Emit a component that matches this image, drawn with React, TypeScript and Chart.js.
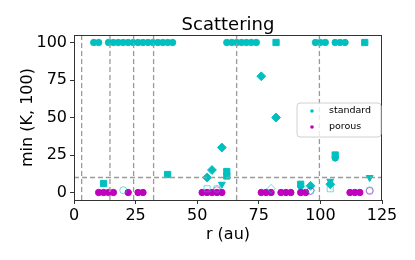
import React, { useEffect, useRef } from 'react';
import { Chart, registerables } from 'chart.js';

Chart.register(...registerables);

const FONT = '"DejaVu Sans", sans-serif';
const TITLE = 'Scattering';
const X_LABEL = 'r (au)';
const Y_LABEL = 'min (K, 100)';
const X_TICKS = [0, 25, 50, 75, 100, 125];
const Y_TICKS = [0, 25, 50, 75, 100];
const X_MIN = 0;
const X_MAX = 125;
const Y_MIN = -5;
const Y_MAX = 105;
const GAP_R = [3.1, 14.6, 24.2, 32.3, 66, 99.6];
const K_THRESHOLD = 10;
const LEGEND_LABELS = ['standard', 'porous'];

// standard grains (cyan)
const STD_CIRCLE_R = [8, 10, 14, 16, 18, 20, 22, 24, 26, 28, 30, 32, 34, 36, 38, 40, 62, 64, 66, 68, 70, 72, 74, 98, 100, 102, 106, 108, 110, 106];
const STD_CIRCLE_K = [100, 100, 100, 100, 100, 100, 100, 100, 100, 100, 100, 100, 100, 100, 100, 100, 100, 100, 100, 100, 100, 100, 100, 100, 100, 100, 100, 100, 100, 23];
const STD_SQUARE_R = [12, 38, 62, 62, 82, 92, 106, 118];
const STD_SQUARE_K = [6, 12, 14, 11, 100, 5.5, 25, 100];
const STD_DIAMOND_R = [54, 56, 60, 76, 82, 96, 104];
const STD_DIAMOND_K = [10, 15, 30, 77.5, 50, 4.5, 5.5];
const STD_TRIANGLE_R = [60, 92, 104, 120];
const STD_TRIANGLE_K = [5.5, 3, 7.5, 10];
const STD_OPEN_CIRCLE_R = [20, 58, 120];
const STD_OPEN_CIRCLE_K = [1.5, 2.5, 1.5];
const STD_OPEN_SQUARE_R = [54, 104];
const STD_OPEN_SQUARE_K = [2.5, 2.5];
const STD_OPEN_DIAMOND_R = [80, 96];
const STD_OPEN_DIAMOND_K = [2.5, 1.5];

// porous grains (magenta)
const POR_CIRCLE_R = [10, 12, 14, 16, 22, 26, 28, 52, 54, 56, 58, 60, 76, 78, 80, 84, 86, 88, 92, 94, 112, 114, 116];
const POR_CIRCLE_K = [0, 0, 0, 0, 0, 0, 0, 0, 0, 0, 0, 0, 0, 0, 0, 0, 0, 0, 0, 0, 0, 0, 0];
const POR_OPEN_CIRCLE_R = [58, 96, 120];
const POR_OPEN_CIRCLE_K = [1.5, 1, 1];

const CYAN = '#00bfbf';
const MAGENTA = '#bf00bf';
const CYAN_LIGHT = 'rgba(0,191,191,0.55)';
const MAGENTA_LIGHT = 'rgba(191,0,191,0.5)';
const REF_LINE = '#9a9a9a';

const pts = (rs: number[], ks: number[]) => rs.map((r, i) => ({ x: r, y: ks[i] }));

const framePlugin = {
  id: 'frameTitleLegend',
  afterDatasetsDraw(chart: any) {
    const { ctx, chartArea } = chart;
    ctx.save();
    ctx.strokeStyle = '#333';
    ctx.lineWidth = 1;
    ctx.strokeRect(Math.round(chartArea.left) + 0.5, Math.round(chartArea.top) + 0.5,
      Math.round(chartArea.right - chartArea.left) - 1, Math.round(chartArea.bottom - chartArea.top));
    // title, centred over the axes
    ctx.fillStyle = '#000';
    ctx.font = `18px ${FONT}`;
    ctx.textAlign = 'center';
    ctx.textBaseline = 'middle';
    ctx.fillText(TITLE, (chartArea.left + chartArea.right) / 2, 25.5);
    // legend box
    const bx = 297, by = 103, bw = 84, bh = 34, rr = 3;
    ctx.beginPath();
    ctx.moveTo(bx + rr, by);
    ctx.arcTo(bx + bw, by, bx + bw, by + bh, rr);
    ctx.arcTo(bx + bw, by + bh, bx, by + bh, rr);
    ctx.arcTo(bx, by + bh, bx, by, rr);
    ctx.arcTo(bx, by, bx + bw, by, rr);
    ctx.closePath();
    ctx.fillStyle = 'rgba(255,255,255,0.8)';
    ctx.fill();
    ctx.strokeStyle = '#d0d0d0';
    ctx.lineWidth = 1;
    ctx.stroke();
    const colors = [CYAN, MAGENTA];
    LEGEND_LABELS.forEach((lab, i) => {
      const cy = 111 + i * 16;
      ctx.beginPath();
      ctx.arc(312, cy, 1.8, 0, Math.PI * 2);
      ctx.fillStyle = colors[i];
      ctx.fill();
      ctx.fillStyle = '#000';
      ctx.font = `9.5px ${FONT}`;
      ctx.textAlign = 'left';
      ctx.textBaseline = 'middle';
      ctx.fillText(lab, 329, cy);
    });
    ctx.restore();
  },
};

export default function App() {
  const ref = useRef<HTMLCanvasElement | null>(null);
  useEffect(() => {
    document.body.style.margin = '0';
    if (!ref.current) return;
    const lineDs = (data: any[]) => ({
      data,
      showLine: true,
      borderColor: REF_LINE,
      borderWidth: 1.3,
      borderDash: [5, 3],
      pointRadius: 0,
      fill: false,
    });
    const datasets: any[] = [
      ...GAP_R.map((r) => lineDs([{ x: r, y: Y_MIN }, { x: r, y: Y_MAX }])),
      lineDs([{ x: X_MIN, y: K_THRESHOLD }, { x: X_MAX, y: K_THRESHOLD }]),
      { data: pts(POR_OPEN_CIRCLE_R, POR_OPEN_CIRCLE_K), pointStyle: 'circle', pointRadius: 3.5, backgroundColor: 'rgba(0,0,0,0)', borderColor: MAGENTA_LIGHT, borderWidth: 1 },
      { data: pts(STD_OPEN_CIRCLE_R, STD_OPEN_CIRCLE_K), pointStyle: 'circle', pointRadius: 3.5, backgroundColor: 'rgba(0,0,0,0)', borderColor: CYAN_LIGHT, borderWidth: 1 },
      { data: pts(STD_OPEN_SQUARE_R, STD_OPEN_SQUARE_K), pointStyle: 'rect', pointRadius: 4.3, backgroundColor: 'rgba(0,0,0,0)', borderColor: CYAN_LIGHT, borderWidth: 1 },
      { data: pts(STD_OPEN_DIAMOND_R, STD_OPEN_DIAMOND_K), pointStyle: 'rectRot', pointRadius: 4.3, backgroundColor: 'rgba(0,0,0,0)', borderColor: CYAN_LIGHT, borderWidth: 1 },
      { data: pts(POR_CIRCLE_R, POR_CIRCLE_K), pointStyle: 'circle', pointRadius: 3.2, backgroundColor: MAGENTA, borderColor: MAGENTA, borderWidth: 1 },
      { data: pts(STD_SQUARE_R, STD_SQUARE_K), pointStyle: 'rect', pointRadius: 4.4, backgroundColor: CYAN, borderColor: CYAN, borderWidth: 1 },
      { data: pts(STD_DIAMOND_R, STD_DIAMOND_K), pointStyle: 'rectRot', pointRadius: 4.4, backgroundColor: CYAN, borderColor: CYAN, borderWidth: 1 },
      { data: pts(STD_TRIANGLE_R, STD_TRIANGLE_K), pointStyle: 'triangle', pointRotation: 180, pointRadius: 4, backgroundColor: CYAN, borderColor: CYAN, borderWidth: 1 },
      { data: pts(STD_CIRCLE_R, STD_CIRCLE_K), pointStyle: 'circle', pointRadius: 3.2, backgroundColor: CYAN, borderColor: CYAN, borderWidth: 1 },
    ];
    const chart = new Chart(ref.current, {
      type: 'scatter',
      data: { datasets },
      plugins: [framePlugin],
      options: {
        animation: false,
        responsive: false,
        devicePixelRatio: 1,
        events: [],
        layout: { padding: { left: 0, right: 33, top: 35, bottom: 0 } },
        plugins: {
          legend: { display: false },
          tooltip: { enabled: false },
          title: { display: false },
        },
        scales: {
          x: {
            type: 'linear',
            min: X_MIN,
            max: X_MAX,
            afterFit: (s: any) => { s.height = 60; },
            afterBuildTicks: (s: any) => { s.ticks = X_TICKS.map((v) => ({ value: v })); },
            grid: { drawOnChartArea: false, drawTicks: true, tickLength: 4, tickColor: '#333', tickWidth: 1 },
            border: { display: true, color: '#333', width: 1 },
            ticks: { color: '#000', font: { family: FONT, size: 16 }, padding: 2, maxRotation: 0, autoSkip: false, callback: (v: any) => String(v) },
            title: { display: true, text: X_LABEL, color: '#000', font: { family: FONT, size: 16, lineHeight: 1 }, padding: { top: 0, bottom: 17 } },
          },
          y: {
            type: 'linear',
            min: Y_MIN,
            max: Y_MAX,
            afterFit: (s: any) => { s.width = 74; },
            afterBuildTicks: (s: any) => { s.ticks = Y_TICKS.map((v) => ({ value: v })); },
            grid: { drawOnChartArea: false, drawTicks: true, tickLength: 4, tickColor: '#333', tickWidth: 1 },
            border: { display: true, color: '#333', width: 1 },
            ticks: { color: '#000', font: { family: FONT, size: 16 }, padding: 3, autoSkip: false, callback: (v: any) => String(v) },
            title: { display: true, text: Y_LABEL, color: '#000', font: { family: FONT, size: 16, lineHeight: 1 }, padding: { top: 19.7, bottom: 0 } },
          },
        },
      } as any,
    });
    return () => chart.destroy();
  }, []);
  return (
    <div style={{ position: 'absolute', left: 0, top: 0, width: 415, height: 260 }}>
      <canvas ref={ref} width={415} height={260} style={{ width: 415, height: 260, display: 'block' }} />
    </div>
  );
}
